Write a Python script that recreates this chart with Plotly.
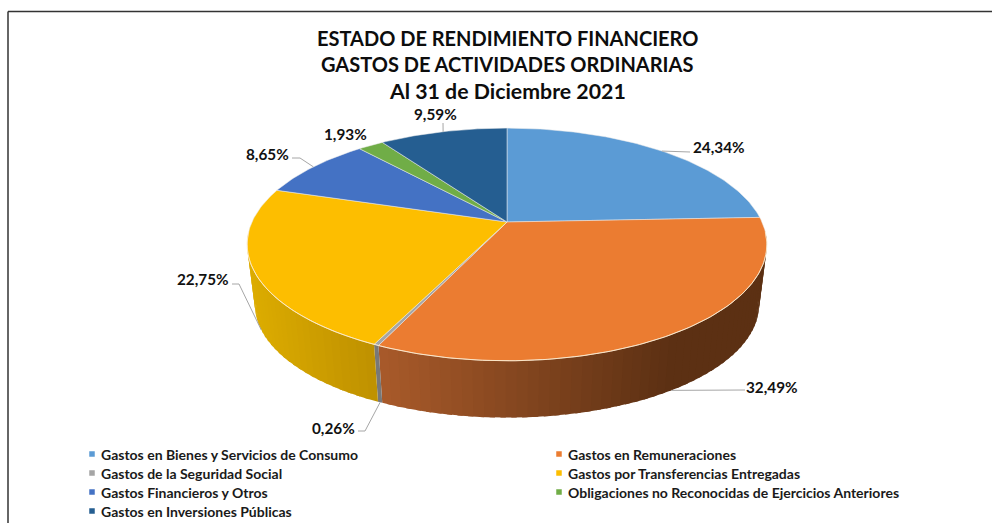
import math
import plotly.graph_objects as go

# ---- data ----
categories = [
    "Gastos en Bienes y Servicios de Consumo",
    "Gastos en Remuneraciones",
    "Gastos de la Seguridad Social",
    "Gastos por Transferencias Entregadas",
    "Gastos Financieros y Otros",
    "Obligaciones no Reconocidas de Ejercicios Anteriores",
    "Gastos en Inversiones Públicas",
]
shares = [24.34, 32.49, 0.26, 22.75, 8.65, 1.93, 9.59]
title_lines = ["ESTADO DE RENDIMIENTO FINANCIERO", "GASTOS DE ACTIVIDADES ORDINARIAS", "Al 31 de Diciembre 2021"]

# ---- style ----
top_colors = ["#5B9BD5", "#EB7C31", "#A5A5A5", "#FDBE00", "#4472C4", "#70AD47", "#255E91"]
wall_shades = {1: ((0x5C, 0x30, 0x13), (0xA8, 0x5A, 0x2A)), 2: ((0x70, 0x70, 0x70), (0x80, 0x80, 0x80)), 3: ((0xBE, 0x90, 0x00), (0xDC, 0xAC, 0x00))}
FONT = "Lato"
CX, AY = 507, 222          # apex of the pie on the page
A, B, K = 255, 112, 0.193  # perspective ellipse
DROP, SHRINK = 61, 0.97    # extrusion of the lower rim
# elbow of each leader and where its label sits (None = no leader line)
elbows = [(690, 152), (745, 390), (365, 431), (239, 284), (300, 158), None, (443, 123)]
stubs = [0, 0, 7, 7, 8, 0, 0]
label_xy = [(719, 147), (772, 387), (333, 428), (203, 279), (267, 154), (345, 134), (435, 114)]
legend_xy = [(92, 454), (559, 454), (92, 473), (559, 473), (92, 492), (559, 492), (92, 511)]
LEGEND_TEXT_GAP = 8
TITLE_Y = (38, 64, 91)
TITLE_SIZE = (20, 20, 21.3)


def top(theta):
    u, v = math.sin(theta), math.cos(theta)
    w = 1 + K * v
    return CX + A * u / w, AY - B * v / w


def bottom(theta):
    x, y = top(theta)
    return CX + (x - CX) * SHRINK, AY + DROP + (y - AY) * SHRINK


def arc(fn, a0, a1, step=math.radians(1.0)):
    n = max(2, int(abs(a1 - a0) / step) + 1)
    return [fn(a0 + (a1 - a0) * i / n) for i in range(n + 1)]


total = sum(shares)
edges = [0.0]
for s in shares:
    edges.append(edges[-1] + s / total * 2 * math.pi)

fig = go.Figure()

# ---- side wall (front half only), as narrow overlapping shaded strips ----
W0, W1 = math.radians(95), math.radians(265)
x_lo, x_hi = {}, {}
for i in wall_shades:
    a0, a1 = max(edges[i], W0), min(edges[i + 1], W1)
    x_lo[i], x_hi[i] = top(a0)[0], top(a1)[0]


def shade(i, x):
    dark, bright = wall_shades[i]
    if i == 1:  # orange: flat dark up to x=670, brightening to the left
        f = min(1, max(0, (670 - x) / (670 - x_hi[1])))
    else:
        f = min(1, max(0, (x_lo[i] - x) / (x_lo[i] - x_hi[i] + 1e-6)))
    return "rgb(%d,%d,%d)" % tuple(round(d + (b - d) * f) for d, b in zip(dark, bright))


for i in wall_shades:
    a0, a1 = max(edges[i], W0), min(edges[i + 1], W1)
    n = max(1, int((a1 - a0) / math.radians(2)))
    for k in range(n):
        t0 = a0 + (a1 - a0) * k / n
        t1 = min(a1, a0 + (a1 - a0) * (k + 1) / n + math.radians(1.0))
        poly = arc(top, t0, t1, math.radians(0.5)) + arc(bottom, t1, t0, math.radians(0.5))
        poly.append(poly[0])
        col = shade(i, top((t0 + t1) / 2)[0])
        fig.add_trace(go.Scatter(x=[p[0] for p in poly], y=[p[1] for p in poly], mode="lines",
                                 fill="toself", fillcolor=col, line=dict(width=0),
                                 hoverinfo="skip", showlegend=False))

# ---- top face ----
for i, name in enumerate(categories):
    pts = [(CX, AY)] + arc(top, edges[i], edges[i + 1]) + [(CX, AY)]
    fig.add_trace(go.Scatter(x=[p[0] for p in pts], y=[p[1] for p in pts], mode="lines", fill="toself",
                             fillcolor=top_colors[i], line=dict(color="rgba(235,235,235,0.65)", width=0.8),
                             name=name, hoverinfo="name", showlegend=False))

# light rim along the front edge
rim = arc(top, W0, W1)
fig.add_trace(go.Scatter(x=[p[0] for p in rim], y=[p[1] for p in rim], mode="lines",
                         line=dict(color="rgba(255,236,205,0.85)", width=1), hoverinfo="skip", showlegend=False))

# ---- leaders and labels ----
for i, s in enumerate(shares):
    mid = (edges[i] + edges[i + 1]) / 2
    lx, ly = label_xy[i]
    fig.add_annotation(x=lx, y=ly, text="<b>%s%%</b>" % f"{s:.2f}".replace(".", ","), showarrow=False,
                       font=dict(family=FONT, size=15.3, color="#111111"))
    if elbows[i] is None:
        continue
    ex, ey = elbows[i]
    ax, ay = bottom(mid) if W0 < mid < W1 else top(mid)
    path_x, path_y = [ax, ex], [ay, ey]
    if stubs[i]:
        path_x.append(ex - stubs[i])
        path_y.append(ey)
    fig.add_trace(go.Scatter(x=path_x, y=path_y, mode="lines", line=dict(color="#A6A6A6", width=1),
                             hoverinfo="skip", showlegend=False))

# ---- legend, real text beside square markers ----
for i, name in enumerate(categories):
    lx, ly = legend_xy[i]
    fig.add_trace(go.Scatter(x=[lx], y=[ly], mode="markers",
                             marker=dict(symbol="square", size=5.5, color=top_colors[i]),
                             hoverinfo="skip", showlegend=False))
    fig.add_annotation(x=lx + LEGEND_TEXT_GAP, y=ly, xanchor="left", text="<b>%s</b>" % name, showarrow=False,
                       xshift=-1, font=dict(family=FONT, size=14, color="#1A1A1A"))

# ---- title ----
for line, y, size in zip(title_lines, TITLE_Y, TITLE_SIZE):
    fig.add_annotation(x=CX, y=y, text="<b>%s</b>" % line, showarrow=False,
                       font=dict(family=FONT, size=size, color="#0D0D0D"))

fig.update_layout(
    width=992, height=523, margin=dict(l=0, r=0, t=0, b=0),
    paper_bgcolor="white", plot_bgcolor="white", showlegend=False,
    xaxis=dict(range=[0, 992], visible=False, fixedrange=True),
    yaxis=dict(range=[523, 0], visible=False, fixedrange=True),
    shapes=[dict(type="line", x0=8, x1=992, y0=11.5, y1=11.5, line=dict(color="#333333", width=1.5)),
            dict(type="line", x0=8, x1=8, y0=11.5, y1=523, line=dict(color="#333333", width=1.5))],
)
fig.write_html("out.html", config=dict(displayModeBar=False),
               post_script="document.body.style.margin='0';document.body.style.overflow='hidden';")
